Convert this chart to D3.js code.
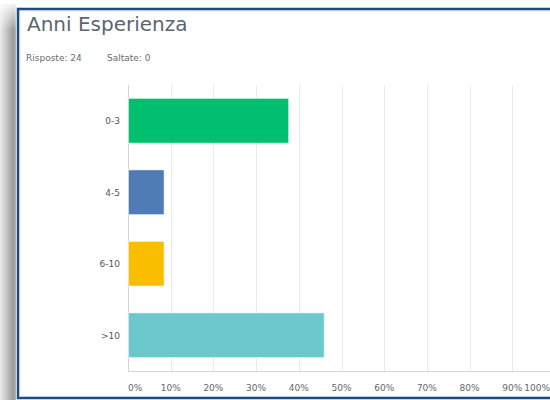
<!DOCTYPE html>
<html>
<head>
<meta charset="utf-8">
<script src="https://cdn.jsdelivr.net/npm/d3@7"></script>
<style>
  body { margin: 0; background: #fff; overflow: hidden; }
  text { font-family: "DejaVu Sans", sans-serif; }
</style>
</head>
<body>
<script>
// chart data --------------------------------------------------------------
var categories = ["0-3", "4-5", "6-10", ">10"];
var counts = [9, 2, 2, 11];           // risposte per fascia
var percents = [37.5, 8.33, 8.33, 45.83];
var barColors = ["#00bf6f", "#507cb6", "#f9be00", "#6bc8cd"];
var tickValues = [0, 10, 20, 30, 40, 50, 60, 70, 80, 90, 100];
var answered = 24;
var skipped = 0;

var svgWidth = 550;
var svgHeight = 400;

var svg = d3.select("body")
  .append("svg")
  .attr("width", svgWidth)
  .attr("height", svgHeight);

// left drop shadow of the card
var defs = svg.append("defs");
var grad = defs.append("linearGradient").attr("id", "shadow")
  .attr("x1", "0").attr("x2", "1").attr("y1", "0").attr("y2", "0");
grad.append("stop").attr("offset", "0%").attr("stop-color", "#ececec");
grad.append("stop").attr("offset", "85%").attr("stop-color", "#9a9a9a");
grad.append("stop").attr("offset", "100%").attr("stop-color", "#b5b5b5");
var vgrad = defs.append("linearGradient").attr("id", "fadeTop")
  .attr("x1", "0").attr("x2", "0").attr("y1", "0").attr("y2", "1");
vgrad.append("stop").attr("offset", "0%").attr("stop-color", "#fff").attr("stop-opacity", 1);
vgrad.append("stop").attr("offset", "100%").attr("stop-color", "#fff").attr("stop-opacity", 0);

svg.append("rect").attr("x", 0).attr("y", 4).attr("width", 16).attr("height", 396)
  .attr("fill", "url(#shadow)");
svg.append("rect").attr("x", 0).attr("y", 0).attr("width", 16).attr("height", 30)
  .attr("fill", "url(#fadeTop)");

// card frame
svg.append("rect")
  .attr("x", 18).attr("y", 9)
  .attr("width", 560).attr("height", 389)
  .attr("fill", "#fff")
  .attr("stroke", "#1f4b7c")
  .attr("stroke-width", 2.5);
svg.append("rect")
  .attr("x", 19.8).attr("y", 10.8)
  .attr("width", 560).attr("height", 385.5)
  .attr("fill", "none")
  .attr("stroke", "#b8cbe0")
  .attr("stroke-width", 0.8);

// title + summary
svg.append("text")
  .attr("x", 27).attr("y", 31)
  .attr("font-family", "'Open Sans', sans-serif")
  .attr("font-size", "20px")
  .attr("fill", "#5b6670")
  .text("Anni Esperienza");

svg.append("text")
  .attr("x", 26).attr("y", 61)
  .attr("font-size", "9px")
  .attr("fill", "#6b6b6b")
  .text("Risposte: " + answered);

svg.append("text")
  .attr("x", 107).attr("y", 61)
  .attr("font-size", "9px")
  .attr("fill", "#6b6b6b")
  .text("Saltate: " + skipped);

// scales
var plotTop = 85, plotBottom = 371, plotLeft = 128, plotRight = 555;

var xScale = d3.scaleLinear()
  .domain([0, 100])
  .range([plotLeft, plotRight]);

var yScale = d3.scaleBand()
  .domain(categories)
  .range([plotTop, plotBottom])
  .paddingInner(0.375)
  .paddingOuter(0.1875);

var chartGroup = svg.append("g");

// vertical gridlines
chartGroup.selectAll(".grid")
  .data(tickValues.slice(1))
  .enter()
  .append("line")
  .attr("class", "grid")
  .attr("x1", function(d) { return Math.round(xScale(d)) + 0.5; })
  .attr("x2", function(d) { return Math.round(xScale(d)) + 0.5; })
  .attr("y1", plotTop)
  .attr("y2", plotBottom)
  .attr("stroke", "#ebebeb")
  .attr("stroke-width", 1);

// zero line + baseline
chartGroup.append("line")
  .attr("x1", Math.round(xScale(0)) + 0.5).attr("x2", Math.round(xScale(0)) + 0.5)
  .attr("y1", plotTop).attr("y2", plotBottom)
  .attr("stroke", "#d6d6d6");
chartGroup.append("line")
  .attr("x1", xScale(0)).attr("x2", svgWidth)
  .attr("y1", plotBottom + 0.5).attr("y2", plotBottom + 0.5)
  .attr("stroke", "#d6d6d6");

// bars
chartGroup.selectAll(".bar")
  .data(categories)
  .enter()
  .append("rect")
  .attr("class", "bar")
  .attr("x", xScale(0) + 0.5)
  .attr("y", function(d) { return yScale(d); })
  .attr("width", function(d, i) { return xScale(percents[i]) - xScale(0); })
  .attr("height", yScale.bandwidth())
  .attr("fill", function(d, i) { return barColors[i]; })
  .attr("stroke", "#ffffff")
  .attr("stroke-opacity", 0.5)
  .attr("stroke-width", 1);

// category labels
chartGroup.selectAll(".cat")
  .data(categories)
  .enter()
  .append("text")
  .attr("class", "cat")
  .attr("x", 120)
  .attr("y", function(d) { return yScale(d) + yScale.bandwidth() / 2 + 3.5; })
  .attr("text-anchor", "end")
  .attr("font-size", "9px")
  .attr("fill", "#555")
  .text(function(d) { return d; });

// x tick labels (first one left aligned, last one right aligned)
chartGroup.selectAll(".tick-label")
  .data(tickValues)
  .enter()
  .append("text")
  .attr("class", "tick-label")
  .attr("x", function(d, i) { return i === tickValues.length - 1 ? 550 : xScale(d); })
  .attr("y", 391)
  .attr("text-anchor", function(d, i) {
    if (i === 0) return "start";
    if (i === tickValues.length - 1) return "end";
    return "middle";
  })
  .attr("font-size", "9px")
  .attr("fill", "#666")
  .text(function(d) { return d + "%"; });
</script>
</body>
</html>
